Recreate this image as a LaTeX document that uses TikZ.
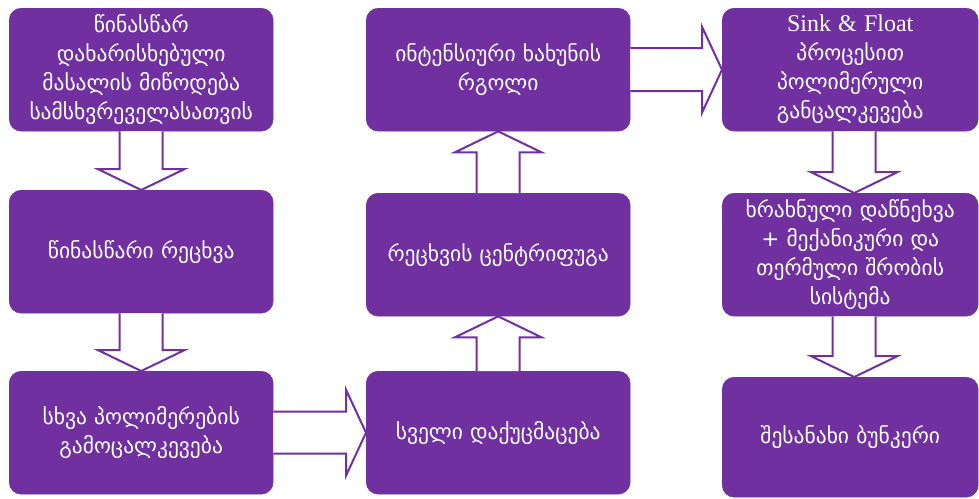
\documentclass[tikz,border=0pt]{standalone}
\usepackage{fontspec}
\setmainfont{DejaVu Sans}
\newfontfamily\latinserif{Liberation Serif}
\usetikzlibrary{calc}
\definecolor{vio}{HTML}{7030A0}
\begin{document}
\begin{tikzpicture}[x=1pt,y=-1pt,
 box/.style={draw=vio, fill=vio, rounded corners=12pt, minimum width=264pt, minimum height=123pt,
   anchor=north west, text=white, align=center, font=\fontsize{21.5}{29}\selectfont, inner sep=0pt, text width=260pt},
 boxn/.style={box, minimum width=256pt, text width=254pt},
 blk/.style={draw=vio, line width=2pt, fill=white, line join=miter}]
\fill[white] (0,0) rectangle (979,498);
\useasboundingbox (0,0) rectangle (979,498);
% column 1
\node[box] (b1) at (9,8) {წინასწარ\\დახარისხებული\\მასალის მიწოდება\\სამსხვრეველასათვის};
\node[box] (b2) at (9,190) {წინასწარი რეცხვა};
\node[box] (b3) at (9,371) {სხვა პოლიმერების\\გამოცალკევება};
% column 2
\node[box] (b4) at (366,8) {ინტენსიური ხახუნის\\რგოლი};
\node[box] (b5) at (366,193) {რეცხვის ცენტრიფუგა};
\node[box] (b6) at (366,371) {სველი დაქუცმაცება};
% column 3
\node[boxn] (b7) at (722,8) {{\latinserif\fontsize{24}{29}\selectfont Sink \& Float}\\პროცესით\\პოლიმერული\\განცალკევება};
\node[boxn] (b8) at (722,193) {ხრახნული დაწნეხვა\\+ მექანიკური და\\თერმული შრობის\\სისტემა};
\node[boxn, minimum height=120pt] (b9) at (722,377) {შესანახი ბუნკერი};
% down arrows column 1
\draw[blk] ($(b1.south)+(-21.5,0)$) -- ($(b2.north)+(-21.5,-21)$) -- ($(b2.north)+(-43.5,-21)$) -- (b2.north)
  -- ($(b2.north)+(43.5,-21)$) -- ($(b2.north)+(21.5,-21)$) -- ($(b1.south)+(21.5,0)$);
\draw[blk] ($(b2.south)+(-21.5,0)$) -- ($(b3.north)+(-21.5,-21)$) -- ($(b3.north)+(-43.5,-21)$) -- (b3.north)
  -- ($(b3.north)+(43.5,-21)$) -- ($(b3.north)+(21.5,-21)$) -- ($(b2.south)+(21.5,0)$);
% right arrow b3 -> b6
\draw[blk] ($(b3.east)+(0,-21)$) -- ($(b6.west)+(-20,-21)$) -- ($(b6.west)+(-20,-43)$) -- (b6.west)
  -- ($(b6.west)+(-20,43)$) -- ($(b6.west)+(-20,21)$) -- ($(b3.east)+(0,21)$);
% up arrows column 2
\draw[blk] ($(b6.north)+(-21.5,0)$) -- ($(b5.south)+(-21.5,21)$) -- ($(b5.south)+(-43.5,21)$) -- (b5.south)
  -- ($(b5.south)+(43.5,21)$) -- ($(b5.south)+(21.5,21)$) -- ($(b6.north)+(21.5,0)$);
\draw[blk] ($(b5.north)+(-21.5,0)$) -- ($(b4.south)+(-21.5,21)$) -- ($(b4.south)+(-43.5,21)$) -- (b4.south)
  -- ($(b4.south)+(43.5,21)$) -- ($(b4.south)+(21.5,21)$) -- ($(b5.north)+(21.5,0)$);
% right arrow b4 -> b7
\draw[blk] ($(b4.east)+(0,-21.5)$) -- ($(b7.west)+(-20,-21.5)$) -- ($(b7.west)+(-20,-43)$) -- (b7.west)
  -- ($(b7.west)+(-20,43)$) -- ($(b7.west)+(-20,21.5)$) -- ($(b4.east)+(0,21.5)$);
% down arrows column 3
\coordinate (s7) at ($(b7.south)+(4,0)$);
\coordinate (n8) at ($(b8.north)+(4,0)$);
\coordinate (s8) at ($(b8.south)+(4,0)$);
\coordinate (n9) at ($(b9.north)+(4,0)$);
\draw[blk] ($(s7)+(-21.5,0)$) -- ($(n8)+(-21.5,-21)$) -- ($(n8)+(-43.5,-21)$) -- (n8)
  -- ($(n8)+(43.5,-21)$) -- ($(n8)+(21.5,-21)$) -- ($(s7)+(21.5,0)$);
\draw[blk] ($(s8)+(-21.5,0)$) -- ($(n9)+(-21.5,-21)$) -- ($(n9)+(-43.5,-21)$) -- (n9)
  -- ($(n9)+(43.5,-21)$) -- ($(n9)+(21.5,-21)$) -- ($(s8)+(21.5,0)$);
\end{tikzpicture}
\end{document}
